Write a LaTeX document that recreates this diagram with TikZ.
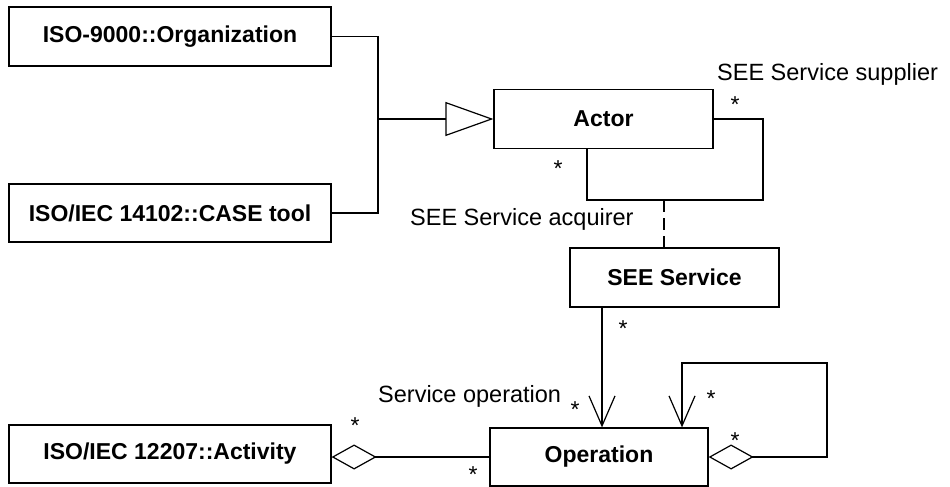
\documentclass[tikz,border=0pt]{standalone}
\usepackage{fontspec}
\setmainfont{Liberation Sans}
\usetikzlibrary{arrows.meta}
\tikzset{
  cls/.style={draw, line width=1.2pt, fill=white, inner sep=0pt,
    font=\fontsize{23}{27}\selectfont\bfseries},
  lbl/.style={inner sep=0pt, font=\fontsize{23.5}{27}\selectfont},
  mult/.style={inner sep=0pt, font=\fontsize{23}{27}\selectfont},
  conn/.style={line width=1.2pt},
  gen/.style={-{Triangle[open, length=48pt, width=34pt, line width=1.2pt]}},
  nav/.style={-{Straight Barb[length=30pt, width=26pt, line width=1.2pt]}},
  agg/.style={{Diamond[open, length=45pt, width=25pt, line width=1.2pt]}-},
  aggnav/.style={{Diamond[open, length=45pt, width=25pt, line width=1.2pt]}-{Straight Barb[length=30pt, width=26pt, line width=1.2pt]}},
}
\begin{document}
\begin{tikzpicture}[x=1pt, y=-1pt]
\useasboundingbox (0,0) rectangle (950,487);
% classes
\node[cls, minimum width=322pt, minimum height=59pt] (org) at (170,36.5) {ISO-9000::Organization};
\node[cls, minimum width=322pt, minimum height=58pt] (case) at (170,213) {ISO/IEC 14102::CASE tool};
\node[cls, minimum width=219pt, minimum height=59pt] (actor) at (603.5,119) {Actor};
\node[cls, minimum width=209pt, minimum height=59pt] (see) at (674.5,277.5) {SEE Service};
\node[cls, minimum width=322pt, minimum height=58pt] (act) at (170,454) {ISO/IEC 12207::Activity};
\node[cls, minimum width=218pt, minimum height=58pt] (op) at (599,457) {Operation};
% coordinates
\coordinate (j) at (378,119);
\coordinate (aloop) at (763,200);
\coordinate (abot) at (587,200);
\coordinate (dj) at (664,200);
\coordinate (sv) at (602,307);
\coordinate (ol1) at (827,363);
\coordinate (ol2) at (682,363);
% generalization
\draw[conn] (org.east) -| (j);
\draw[conn] (case.east) -| (j);
\draw[conn, gen] (j) -- (actor.west);
% actor self association
\draw[conn] (actor.east) -| (aloop) -- (abot) -- (abot |- actor.south);
% association class dashed link
\draw[conn, dash pattern=on 12pt off 6pt] (dj) -- (dj |- see.north);
% SEE Service -> Operation
\draw[conn, nav] (sv) -- (sv |- op.north);
% Operation self aggregation
\draw[conn, aggnav] (op.east) -| (ol1) -- (ol2) -- (ol2 |- op.north);
% Activity aggregation
\draw[conn, agg] (op.west -| act.east) -- (op.west);
% labels
\node[lbl, anchor=base west] (lsup) at (717,81) {SEE Service supplier};
\node[lbl, anchor=base west] (lacq) at (410,225) {SEE Service acquirer};
\node[lbl, anchor=base west] (lop) at (378,402) {Service operation};
% multiplicities
\node[mult] (m1) at (735,105) {*};
\node[mult] (m2) at (558,169) {*};
\node[mult] (m3) at (623,329) {*};
\node[mult] (m4) at (575,410) {*};
\node[mult] (m5) at (711,399) {*};
\node[mult] (m6) at (735,441) {*};
\node[mult] (m7) at (355,426) {*};
\node[mult] (m8) at (473,475) {*};
\end{tikzpicture}
\end{document}
